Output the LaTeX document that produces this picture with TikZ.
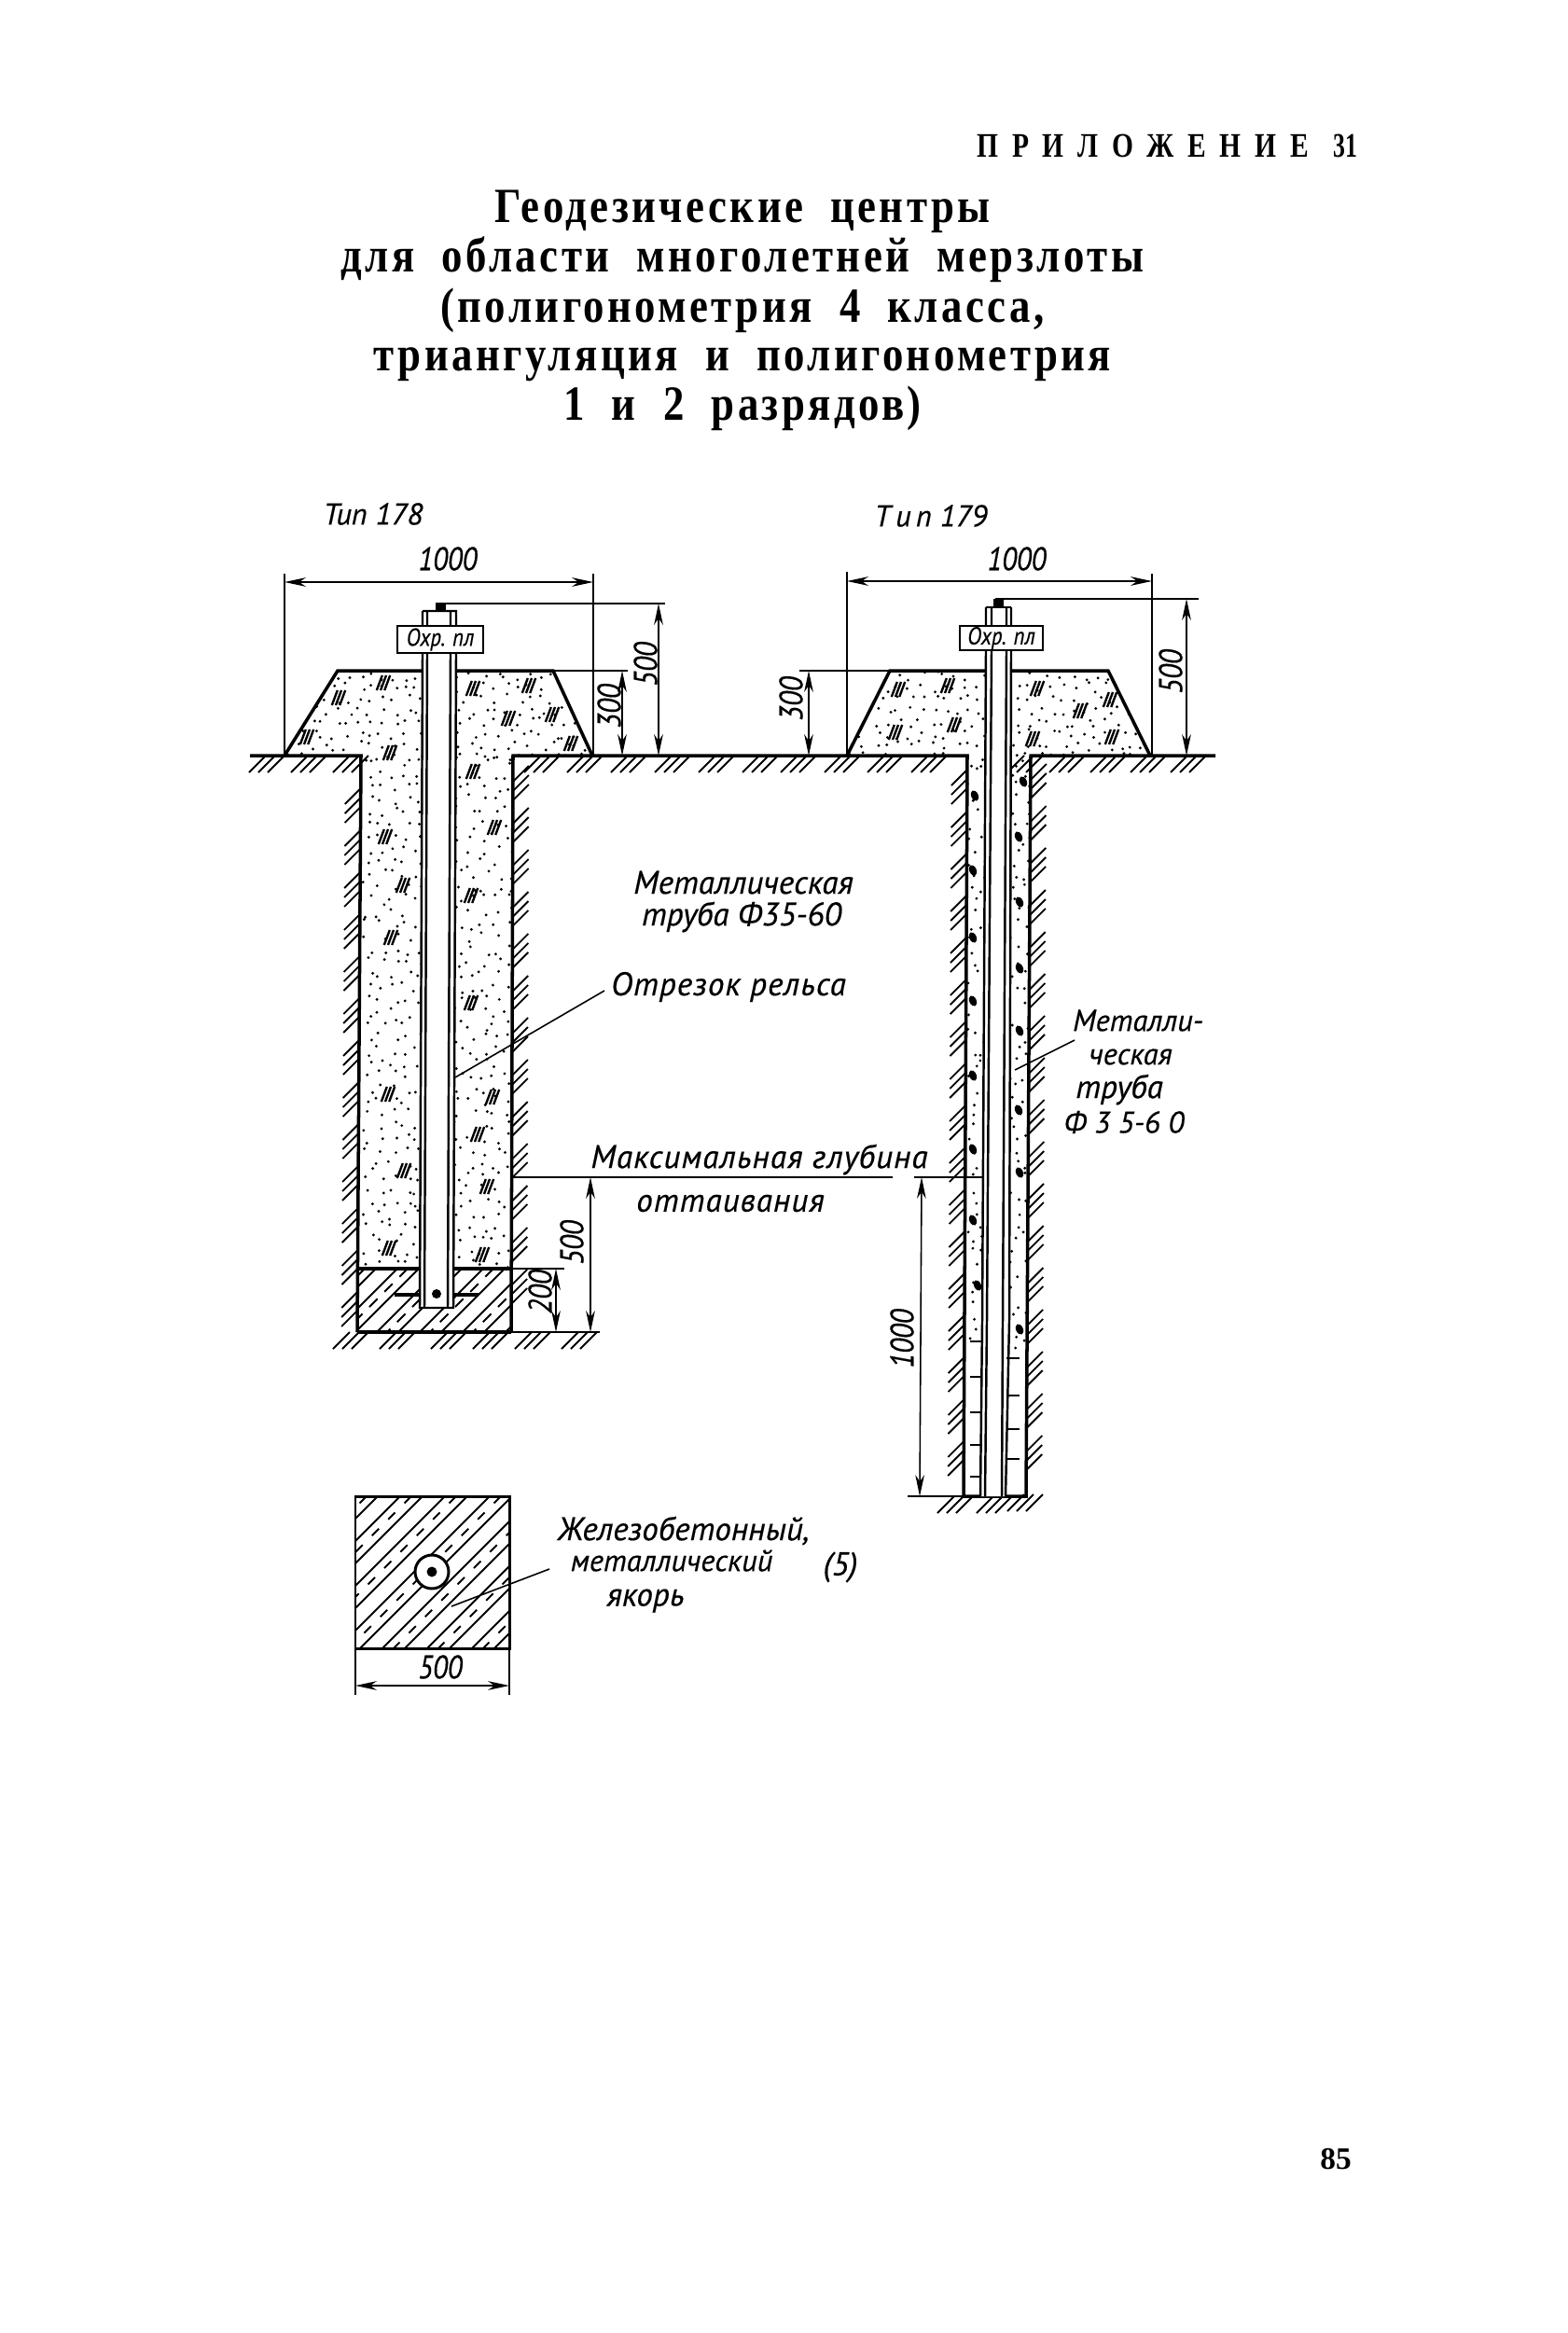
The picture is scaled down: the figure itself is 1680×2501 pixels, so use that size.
\documentclass[tikz,border=0pt]{standalone}
\usepackage{fontspec}
\setmainfont{Liberation Serif}
\newfontfamily\drf[FakeBold=0.4]{PT Sans}
\newfontfamily\drw[FakeBold=0.4,LetterSpace=3]{PT Sans}
\newfontfamily\drn[FakeBold=0.4,FakeStretch=0.86]{PT Sans}
\newfontfamily\ttl[LetterSpace=6.5,FakeStretch=0.85,WordSpace=2]{Liberation Serif}
\newfontfamily\hdr[LetterSpace=40,FakeStretch=0.8]{Liberation Serif}
\newfontfamily\hdn[FakeStretch=0.7]{Liberation Serif}
\usetikzlibrary{arrows.meta}
\pgfmathsetseed{178}
\tikzset{
  heavy/.style={line width=2pt},
  medium/.style={line width=1.4pt},
  thin line/.style={line width=0.9pt},
  hatch/.style={line width=1.05pt},
  dim/.style={line width=0.9pt,{Stealth[length=13pt,width=5.5pt,inset=4pt]}-{Stealth[length=13pt,width=5.5pt,inset=4pt]}},
  title text/.style={font=\ttl\bfseries\fontsize{30}{32}\selectfont,inner sep=0pt,anchor=base},
  dl/.style={font=\drf\itshape\fontsize{20}{22}\selectfont,inner sep=0pt},
  ds/.style={font=\drf\itshape\fontsize{18.5}{20}\selectfont,inner sep=0pt},
  dw/.style={font=\drw\itshape\fontsize{20}{22}\selectfont,inner sep=0pt},
  dn/.style={font=\drn\itshape\fontsize{20}{22}\selectfont,inner sep=0pt},
  plate/.style={draw,line width=1.5pt,fill=white,inner sep=0pt,minimum height=0.58cm,font=\drn\itshape\fontsize{15}{18}\selectfont},
}
\newcommand{\stip}[5]{% x0 y0 x1 y1 step: jittered grid of small dots
  \pgfmathsetmacro\xb{#1+#5}\pgfmathsetmacro\yb{#2+#5}%
  \foreach \gx in {#1,\xb,...,#3}{%
    \foreach \gy in {#2,\yb,...,#4}{%
      \pgfmathsetmacro\xx{\gx+rnd*#5*0.85}%
      \pgfmathsetmacro\yy{\gy+rnd*#5*0.85}%
      \fill (\xx,\yy) circle (1.6);}}}
\newcommand{\aggr}[2]{%
  \foreach \k in {-1,0,1}{\draw[line width=1.35pt] ({#1+\k*4.2-3},{#2+8}) -- ({#1+\k*4.2+3},{#2-8});}}
\newcommand{\blob}[2]{\fill[rotate around={25:(#1,#2)}] (#1,#2) ellipse (3.8 and 6);}
\newcommand{\groundhatch}[2]{% right-end x, y
  \foreach \k in {0,1,2}{\draw[hatch] ({#1-\k*10},#2) -- ({#1-\k*10-18},{#2+18});}}
\newcommand{\wallhatch}[6]{% xtop xbot ytop ybot dir firsty
  \pgfmathsetmacro\secondy{#6+45}%
  \pgfmathsetmacro\lasty{#4-22}%
  \foreach \yy in {#6,\secondy,...,\lasty}{%
    \foreach \k in {0,1,2}{%
      \pgfmathsetmacro\wy{\yy+\k*10}%
      \pgfmathsetmacro\wx{#1+(#2-#1)*(\wy-#3)/(#4-#3)}%
      \draw[hatch] (\wx,\wy) -- ({\wx+#5*17},{\wy-#5*17});}}}
\begin{document}
\begin{tikzpicture}[x=0.02cm,y=-0.02cm]
\useasboundingbox (0,0) rectangle (1680,2501);
\fill[white] (0,0) rectangle (1680,2501);

% ---- page text
\node[anchor=base west,font=\hdr\bfseries\fontsize{21}{23}\selectfont,inner sep=0pt] (hd) at (1047,168) {ПРИЛОЖЕНИЕ};
\node[anchor=base west,font=\hdn\bfseries\fontsize{21}{23}\selectfont,inner sep=0pt] (hdb) at (1429,168) {31};
\node[title text] (t1) at (796,238) {Геодезические центры};
\node[title text] (t2) at (796,291) {для области многолетней мерзлоты};
\node[title text] (t3) at (796,345) {(полигонометрия 4 класса,};
\node[title text] (t4) at (796,397) {триангуляция и полигонометрия};
\node[title text] (t5) at (796,450) {1 и 2 разрядов)};
\node[font=\bfseries\fontsize{19}{22}\selectfont,inner sep=0pt] (pg) at (1432,2315) {85};

% ---- stipple, type 178
\begin{scope}
\clip (305,810) -- (362,719) -- (593,719) -- (635,810) -- (550,810) -- (548,1360) -- (383,1360) -- (387,810) -- cycle;
\stip{305}{719}{453}{810}{12.5}
\stip{489}{719}{635}{810}{12.5}
\stip{389}{810}{453}{1360}{13.5}
\stip{486}{810}{550}{1360}{13.5}
\end{scope}
\foreach \p/\q in {411/732,363/748,329/790,418/807,507/738,567/735,545/770,592/766,612/797,507/827,530/887,413/897,432/949,419/1005,505/960,505/1075,416/1173,528/1176,512/1216,433/1255,522/1272,417/1338,517/1345}{\aggr{\p}{\q}}

% ---- stipple, type 179
\begin{scope}
\clip (908,810) -- (954,719) -- (1188,719) -- (1233,810) -- (1105,810) -- (1102,1450) -- (1082,1450) -- (1082,1437) -- (1033,1437) -- (1037,810) -- cycle;
\stip{908}{719}{1060}{810}{12.5}
\stip{1084}{719}{1233}{810}{12.5}
\stip{1037}{810}{1056}{1450}{13.5}
\stip{1082}{810}{1103}{1450}{13.5}
\end{scope}
\foreach \p/\q in {963/739,1016/735,960/785,1023/777,1112/738,1158/762,1190/750,1107/792,1192/790}{\aggr{\p}{\q}}
\foreach \p/\q in {1045/853,1043/933,1043/1005,1043/1073,1043/1153,1043/1232,1043/1308,1048/1378,1097/838,1092/897,1093/967,1093/1038,1093/1105,1092/1190,1093/1257,1093/1425}{\blob{\p}{\q}}

% ---- anchor hatching, type 178
\begin{scope}
\clip (383,1360) rectangle (548,1428);
\foreach \c in {380,403,...,640}{\draw[hatch] (\c,1360) -- ({\c-68},1428);}
\foreach \c in {391,437,...,640}{\draw[hatch,dash pattern=on 7pt off 6pt] (\c,1360) -- ({\c-68},1428);}
\end{scope}

% ---- ground and walls
\draw[heavy] (268,810) -- (387,810) -- (383,1428);
\draw[heavy] (383,1428) -- (548,1428);
\draw[heavy] (548,1428) -- (550,810) -- (1037,810) -- (1033,1604) -- (1100,1604) -- (1105,810) -- (1303,810);
\draw[heavy] (383,1360) -- (548,1360);
\foreach \x in {305,350,395,600,646,693,740,787,834,875,922,968,1015,1118,1163,1207,1250,1293}{\groundhatch{\x}{810}}
\foreach \x in {395,445,500,545,590,640}{\groundhatch{\x}{1428}}
\foreach \x in {1043,1085}{\groundhatch{\x}{1604}}
\groundhatch{1118}{1602}
\wallhatch{387}{383}{810}{1428}{-1}{845}
\wallhatch{550}{548}{810}{1428}{1}{838}
\wallhatch{1037}{1033}{810}{1604}{-1}{825}
\wallhatch{1105}{1100}{810}{1604}{1}{836}

% ---- mounds
\draw[heavy] (305,810) -- (362,719) -- (453,719);
\draw[heavy] (489,719) -- (593,719) -- (635,810);
\draw[heavy] (908,810) -- (954,719) -- (1057,719);
\draw[heavy] (1084,719) -- (1188,719) -- (1233,810);

% ---- type 178 rail
\fill[white] (453,655) -- (489,655) -- (486,1402) -- (450,1402) -- cycle;
\draw[medium] (453,655) -- (453,670) (453,701) -- (450,1402) -- (486,1402) -- (489,701) (489,670) -- (489,655) -- (453,655);
\draw[medium] (458,655) -- (458,670) (458,701) -- (455,1402);
\draw[medium] (483,655) -- (483,670) (483,701) -- (480,1402);
\fill (468,1387) circle (5);
\draw[line width=2.2pt] (423,1388) -- (450,1388) (486,1388) -- (513,1388);
\fill (467,647) rectangle (478,655);

% ---- type 179 pipe
\fill[white] (1057,651) -- (1084,651) -- (1082,1417) -- (1078,1604) -- (1051,1604) -- (1053,1417) -- cycle;
\draw[medium] (1057,651) -- (1057,671) (1057,697) -- (1053,1417) -- (1051,1604);
\draw[medium] (1063,651) -- (1063,671) (1063,697) -- (1058,1417) -- (1056,1604);
\draw[medium] (1079,651) -- (1079,671) (1079,697) -- (1075,1417) -- (1074,1604);
\draw[medium] (1084,651) -- (1084,671) (1084,697) -- (1082,1417) -- (1078,1604);
\draw[medium] (1057,651) -- (1084,651);
\fill (1065,642) rectangle (1076,651);
\foreach \y in {1438,1476,1514,1549,1583}{\draw[line width=1.5pt] (1040,\y) -- (1052,\y);}
\foreach \y in {1456,1496,1532,1564}{\draw[line width=1.5pt] (1079,\y) -- (1093,\y);}

% ---- plates
\node[plate,minimum width=1.84cm] (pl178) at (472,685.5) {Охр. пл};
\node[plate,minimum width=1.78cm,minimum height=0.52cm] (pl179) at (1073.5,684) {Охр. пл};

% ---- dimensions, type 178
\draw[thin line] (305,810) -- (305,615);
\draw[thin line] (636,810) -- (636,615);
\draw[dim] (305,624) -- (636,624);
\node[dn] (d1000a) at (480,599) {1000};
\draw[thin line] (467,647) -- (713,647);
\draw[thin line] (593,719) -- (673,719);
\draw[dim] (667,719) -- (667,810);
\draw[dim] (706,647) -- (706,810);
\node[dn,rotate=90] (d300a) at (653,757) {300};
\node[dn,rotate=90] (d500a) at (692,712) {500};
\node[ds] (typ178) at (400,551) {Тип 178};

% ---- dimensions, type 179
\draw[thin line] (908,810) -- (908,613);
\draw[thin line] (1235,810) -- (1235,615);
\draw[dim] (908,623) -- (1235,623);
\node[dn] (d1000b) at (1090,599) {1000};
\draw[thin line] (1067,642) -- (1285,642);
\draw[thin line] (954,719) -- (857,719);
\draw[dim] (867,719) -- (867,810);
\draw[dim] (1272,642) -- (1272,810);
\node[dn,rotate=90] (d300b) at (848,749) {300};
\node[dn,rotate=90] (d500b) at (1255,720) {500};
\node[ds] (typ179) at (998,553) {Т\,и\,п\ 179};

% ---- thaw depth
\draw[thin line] (548,1262) -- (957,1262);
\draw[thin line] (980,1262) -- (1055,1262);
\draw[thin line] (548,1360) -- (605,1360);
\draw[thin line] (548,1428) -- (643,1428);
\draw[thin line] (1033,1604) -- (973,1604);
\draw[dim] (633,1262) -- (633,1428);
\draw[dim] (596,1360) -- (596,1428);
\draw[dim] (988,1262) -- (986,1604);
\node[dn,rotate=90] (d500c) at (613,1332) {500};
\node[dn,rotate=90] (d200) at (579,1385) {200};
\node[dn,rotate=90] (d1000c) at (967,1435) {1000};

% ---- labels
\node[dl] (lmp) at (797,946) {Металлическая};
\node[dl] (lmt) at (795,983) {труба Ф35-60};
\node[dw] (lrail) at (781,1058) {Отрезок рельса};
\node[dw] (lmax) at (814,1243) {Максимальная глубина};
\node[dw] (lott) at (783,1290) {оттаивания};
\node[ds] (lm1) at (1220,1094) {Металли-};
\node[ds] (lm2) at (1212,1133) {ческая};
\node[dl] (lm3) at (1200,1168) {труба};
\node[ds] (lm4) at (1205,1203) {Ф 3 5-6 0};
\coordinate (railpt) at (488,1155);
\coordinate (pipept) at (1088,1147);
\coordinate (railfrom) at (648,1062);
\coordinate (pipefrom) at (1152,1115);
\draw[thin line] (railfrom) -- (railpt);
\draw[thin line] (pipefrom) -- (pipept);

% ---- anchor plan
\begin{scope}
\clip (381,1604) rectangle (546,1767);
\foreach \c in {381,405,...,720}{\draw[hatch] (\c,1604) -- ({\c-163},1767);}
\foreach \c in {393,441,...,720}{\draw[hatch,dash pattern=on 6pt off 8pt] (\c,1604) -- ({\c-163},1767);}
\end{scope}
\draw[line width=1.7pt] (381,1604) rectangle (546,1767);
\draw[line width=1.7pt,fill=white] (463,1685) circle (18);
\fill (463,1685) circle (5.5);
\draw[thin line] (381,1767) -- (381,1817);
\draw[thin line] (546,1767) -- (546,1817);
\draw[dim] (381,1807) -- (546,1807);
\node[dn] (d500d) at (472,1787) {500};
\node[dl] (l1) at (733,1641) {Железобетонный,};
\node[ds] (l2) at (720,1673) {металлический};
\node[dl] (l3) at (901,1680) {(5)};
\node[dl] (l4) at (692,1716) {якорь};
\coordinate (anchorpt) at (484,1722);
\coordinate (anchorfrom) at (589,1682);
\draw[thin line] (anchorfrom) -- (anchorpt);
\end{tikzpicture}
\end{document}
